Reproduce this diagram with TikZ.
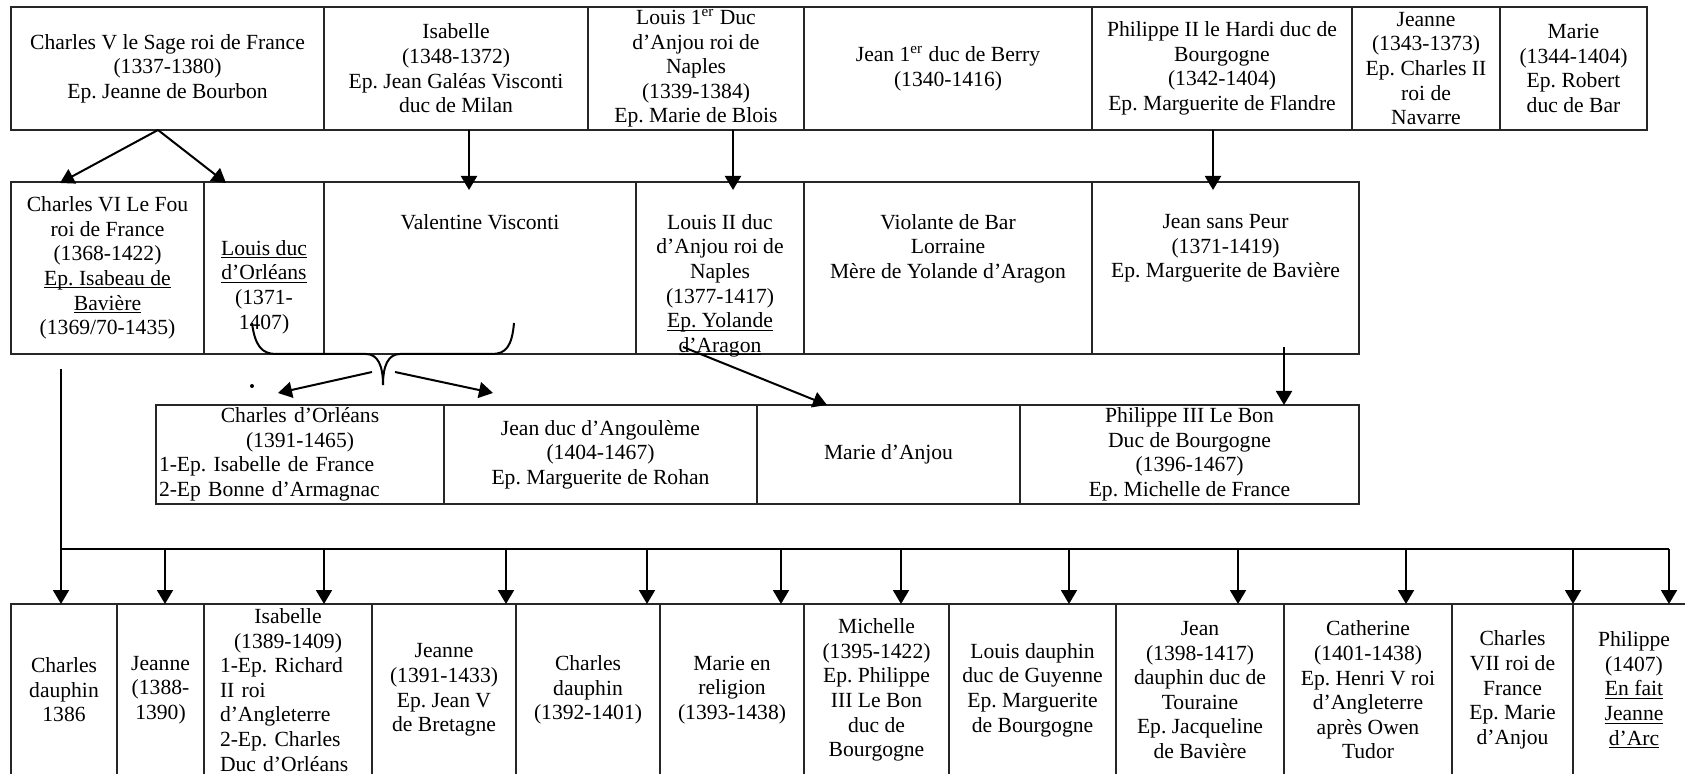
\documentclass[tikz,border=0pt]{standalone}
\usepackage{fontspec}
\setmainfont{Liberation Serif}
\usepackage{tikz}
\usetikzlibrary{calc,arrows.meta,positioning}
\frenchspacing
\newcommand\fs{\fontsize{10.8}{12.3}\selectfont}
\newcommand\undl[1]{\setbox0\hbox{#1}\rlap{\rule[-1.5pt]{\wd0}{.5pt}}\box0}
\newcommand\midline[1]{\makebox[\hsize]{#1}}
\tikzset{
  cell/.style={draw=black!85, rectangle, line width=.7pt, align=center, inner sep=0pt, outer sep=0pt, font=\fs},
  sz/.style 2 args={minimum width=#1*.5pt, minimum height=#2*.5pt},
  txt/.style={align=center, inner sep=0pt, font=\fs},
  arr/.style={line width=1pt, -{Triangle[length=7pt,width=8pt]}},
  link/.style={line width=1pt}
}

\begin{document}
\begin{tikzpicture}[x=.5pt,y=-.5pt]
\useasboundingbox (0,0) rectangle (1685,774);
\clip (0,0) rectangle (1685,774);

% generation of Charles V
\node[cell, sz={313}{123}, anchor=north west] (cv) at (11,7) {Charles V le Sage roi de France\\(1337-1380)\\Ep. Jeanne de Bourbon};
\node[cell, sz={264}{123}, right=0pt of cv] (isab) {Isabelle\\(1348-1372)\\Ep. Jean Galéas Visconti\\duc de Milan};
\node[cell, sz={216}{123}, right=0pt of isab] (louis1) {Louis 1\textsuperscript{er} Duc\\d’Anjou roi de\\Naples\\(1339-1384)\\Ep. Marie de Blois};
\node[cell, sz={288}{123}, right=0pt of louis1] (berry) {Jean 1\textsuperscript{er} duc de Berry\\(1340-1416)};
\node[cell, sz={260}{123}, right=0pt of berry] (phil2) {Philippe II le Hardi duc de\\Bourgogne\\(1342-1404)\\Ep. Marguerite de Flandre};
\node[cell, sz={148}{123}, right=0pt of phil2] (jeanne) {Jeanne\\(1343-1373)\\Ep. Charles II\\roi de\\Navarre};
\node[cell, sz={147}{123}, right=0pt of jeanne] (marie) {Marie\\(1344-1404)\\Ep. Robert\\duc de Bar};

% second generation
\node[cell, sz={193}{172}, anchor=north west] (c6) at (11,182) {Charles VI Le Fou\\roi de France\\(1368-1422)\\\undl{Ep. Isabeau de}\\\undl{Bavière}\\(1369/70-1435)};
\node[cell, sz={120}{172}, right=0pt of c6] (lo) {};
\node[txt, below=29pt of lo.north] (lot) {\undl{Louis duc}\\\undl{d’Orléans}\\(1371-\\1407)};
\node[cell, sz={312}{172}, right=0pt of lo] (vv) {};
\node[txt, below=16pt of vv.north] (vvt) {Valentine Visconti};
\node[cell, sz={168}{172}, right=0pt of vv] (l2) {};
\node[txt, below=16pt of l2.north] (l2t) {Louis II duc\\d’Anjou roi de\\Naples\\(1377-1417)\\\undl{Ep. Yolande}\\\undl{d’Aragon}};
\node[cell, sz={288}{172}, right=0pt of l2] (vio) {};
\node[txt, below=16pt of vio.north] (viot) {Violante de Bar\\Lorraine\\Mère de Yolande d’Aragon};
\node[cell, sz={267}{172}, right=0pt of vio] (jsp) {};
\node[txt, below=16pt of jsp.north] (jspt) {Jean sans Peur\\(1371-1419)\\Ep. Marguerite de Bavière};

% cousins
\node[cell, sz={288}{99}, anchor=north west, text width=141pt, align=left] (co) at (156,405) {\midline{Charles d’Orléans}\\\midline{(1391-1465)}\\1-Ep. Isabelle de France\\2-Ep Bonne d’Armagnac};
\node[cell, sz={313}{99}, right=0pt of co] (jang) {Jean duc d’Angoulème\\(1404-1467)\\Ep. Marguerite de Rohan};
\node[cell, sz={263}{99}, right=0pt of jang] (ma) {Marie d’Anjou};
\node[cell, sz={339}{99}, right=0pt of ma] (p3) {Philippe III Le Bon\\Duc de Bourgogne\\(1396-1467)\\Ep. Michelle de France};

% children of Charles VI
\node[cell, sz={106}{172}, anchor=north west] (k1) at (11,604) {Charles\\dauphin\\1386};
\node[cell, sz={87}{172}, right=0pt of k1] (k2) {Jeanne\\(1388-\\1390)};
\node[cell, sz={168}{172}, right=0pt of k2, text width=68pt, align=left] (k3) {\midline{Isabelle}\\\midline{(1389-1409)}\\1-Ep. Richard\\II roi\\d’Angleterre\\2-Ep. Charles\\Duc d’Orléans};
\node[cell, sz={144}{172}, right=0pt of k3] (k4) {Jeanne\\(1391-1433)\\Ep. Jean V\\de Bretagne};
\node[cell, sz={144}{172}, right=0pt of k4] (k5) {Charles\\dauphin\\(1392-1401)};
\node[cell, sz={144}{172}, right=0pt of k5] (k6) {Marie en\\religion\\(1393-1438)};
\node[cell, sz={145}{172}, right=0pt of k6] (k7) {Michelle\\(1395-1422)\\Ep. Philippe\\III Le Bon\\duc de\\Bourgogne};
\node[cell, sz={167}{172}, right=0pt of k7] (k8) {Louis dauphin\\duc de Guyenne\\Ep. Marguerite\\de Bourgogne};
\node[cell, sz={168}{172}, right=0pt of k8] (k9) {Jean\\(1398-1417)\\dauphin duc de\\Touraine\\Ep. Jacqueline\\de Bavière};
\node[cell, sz={168}{172}, right=0pt of k9] (k10) {Catherine\\(1401-1438)\\Ep. Henri V roi\\d’Angleterre\\après Owen\\Tudor};
\node[cell, sz={121}{172}, right=0pt of k10] (k11) {Charles\\VII roi de\\France\\Ep. Marie\\d’Anjou};
\node[cell, sz={122}{172}, right=0pt of k11] (k12) {Philippe\\(1407)\\\undl{En fait}\\\undl{Jeanne}\\\undl{d’Arc}};

% descent arrows
\draw[arr] ($(cv.south west)+(147,0)$) -- ($(c6.north west)+(49,1)$);
\draw[arr] ($(cv.south west)+(147,0)$) -- ($(lo.north west)+(22,1)$);
\draw[arr] ($(isab.south west)+(145,0)$) -- ($(vv.north west)+(145,8)$);
\draw[arr] ($(louis1.south west)+(145,0)$) -- ($(l2.north west)+(97,8)$);
\draw[arr] ($(phil2.south west)+(121,0)$) -- ($(jsp.north west)+(121,8)$);
\draw[arr] ($(jsp.south west)+(192,-7)$) -- ($(p3.north west)+(264,0)$);
\draw[arr] ($(l2.south west)+(47,-7)$) -- ($(ma.north west)+(70,0)$);

% brace under Louis and Valentine
\coordinate (brace) at (383,385);
\draw[link] (252,323) .. controls (255,346) and (262,354) .. (276,354) -- (366,354)
  .. controls (378,354) and (383,366) .. (brace)
  .. controls (383,366) and (388,354) .. (400,354) -- (492,354)
  .. controls (506,354) and (512,346) .. (514,323);
\draw[arr] ($(brace)+(-11,-13)$) -- ($(co.north west)+(122,-12)$);
\draw[arr] ($(brace)+(12,-13)$) -- ($(jang.north west)+(49,-12)$);
\fill (252,386) circle[radius=1pt];

% bar to the children
\coordinate (barL) at (61,549);
\coordinate (barR) at (1669,549);
\draw[link] ($(c6.south west)+(50,15)$) -- (barL) -- (barR);
\foreach \k/\x in {k1/61, k2/165, k3/324, k4/506, k5/647, k6/781, k7/901, k8/1069, k9/1238, k10/1406, k11/1573, k12/1669}
  \draw[arr] (barL -| \x,0) -- (\k.north -| \x,0);
\end{tikzpicture}
\end{document}
